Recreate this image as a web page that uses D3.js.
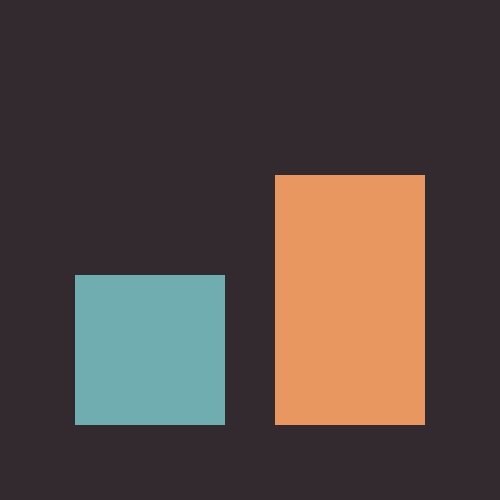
<!DOCTYPE html>
<html>
<head>
<meta charset="utf-8">
<script src="https://cdn.jsdelivr.net/npm/d3@7"></script>
<style>
  html, body { margin: 0; padding: 0; background: #332a30; }
  svg { display: block; }
</style>
</head>
<body>
<svg id="chart"></svg>
<script>
// data
const categories = ['A', 'B']
const values = [3, 5]
const colors = ['#6fadb0', '#e89760']

const width = 500
const height = 500

const svg = d3.select('#chart').attr('width', width).attr('height', height)

// background
svg.append('rect').attr('width', width).attr('height', height).attr('fill', '#332a30')

// scales
const x = d3.scaleBand().domain(categories).range([50, 450]).paddingInner(0.25).paddingOuter(0.125)
const y = d3.scaleLinear().domain([0, 5]).range([425, 175])

svg
  .append('g')
  .selectAll('rect.bar')
  .data(categories)
  .join('rect')
  .attr('class', 'bar')
  .attr('x', d => x(d))
  .attr('y', (d, i) => y(values[i]))
  .attr('width', x.bandwidth())
  .attr('height', (d, i) => y(0) - y(values[i]))
  .attr('fill', (d, i) => colors[i])
</script>
</body>
</html>
